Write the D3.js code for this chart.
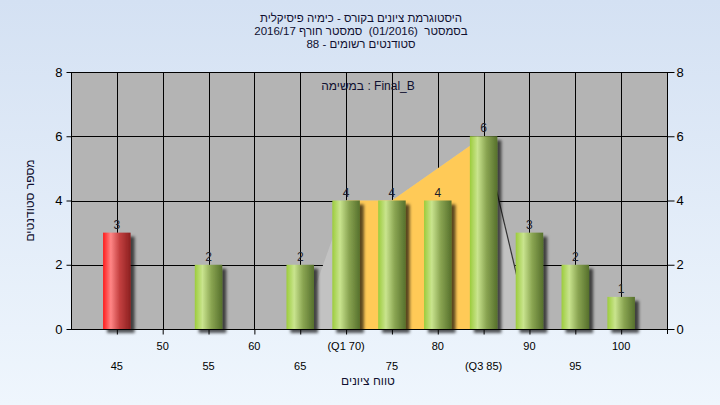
<!DOCTYPE html>
<html><head><meta charset="utf-8">
<script src="https://cdn.jsdelivr.net/npm/d3@7"></script>
<style>html,body{margin:0;padding:0;overflow:hidden;}svg{display:block;font-family:"Liberation Sans",Arial,sans-serif;}</style>
</head><body>
<svg id="chart" width="720" height="405"></svg>
<script>
// ---- data ----
const titleLines = ["היסטוגרמת ציונים בקורס - כימיה פיסיקלית", "בסמסטר  (01/2016)  סמסטר חורף 2016/17", "סטודנטים רשומים - 88"];
const legendText = "במשימה : Final_B";
const xTitle = "טווח ציונים";
const yTitle = "מספר סטודנטים";
const categories = [45, 55, 65, 70, 75, 80, 85, 90, 95, 100];
const counts = [3, 2, 2, 4, 4, 4, 6, 3, 2, 1];
const failing = [true, false, false, false, false, false, false, false, false, false];
const xTickValues = [45, 50, 55, 60, 65, 70, 75, 80, 85, 90, 95, 100];
const xTickLabels = ["45", "50", "55", "60", "65", "(Q1 70)", "75", "80", "(Q3 85)", "90", "95", "100"];
const yTickValues = [0, 2, 4, 6, 8];
const areaX = [65, 70, 75, 85, 90];
const areaY = [0, 4, 4, 6, 0];
const q1 = 70, q3 = 85;

// ---- layout ----
const W = 720, H = 405;
const m = {left: 71, right: 53, top: 72, bottom: 76};
const svg = d3.select("#chart");
const defs = svg.append("defs");

const bg = defs.append("linearGradient").attr("id", "bg").attr("x1", 0).attr("y1", 0).attr("x2", 0).attr("y2", 1);
bg.append("stop").attr("offset", "0%").attr("stop-color", "#d4e1f3");
bg.append("stop").attr("offset", "100%").attr("stop-color", "#eff6fd");
svg.append("rect").attr("width", W).attr("height", H).attr("fill", "url(#bg)");

function barGrad(id, c0, c1, c2, c3) {
  const g = defs.append("linearGradient").attr("id", id).attr("x1", 0).attr("y1", 0).attr("x2", 1).attr("y2", 0);
  g.append("stop").attr("offset", "0%").attr("stop-color", c0);
  g.append("stop").attr("offset", "28%").attr("stop-color", c1);
  g.append("stop").attr("offset", "60%").attr("stop-color", c2);
  g.append("stop").attr("offset", "100%").attr("stop-color", c3);
}
barGrad("gGreen", "#9ccc3c", "#c9e48e", "#8aa552", "#56702c");
barGrad("gRed", "#ff1a1a", "#ff8686", "#c44040", "#8c2020");

const sh = defs.append("filter").attr("id", "shadow").attr("x", "-30%").attr("y", "-30%").attr("width", "180%").attr("height", "160%");
sh.append("feDropShadow").attr("dx", 4).attr("dy", 4).attr("stdDeviation", 1.8).attr("flood-color", "#000").attr("flood-opacity", 0.65);

const x = d3.scaleLinear().domain([40, 105]).range([m.left, W - m.right]);
const y = d3.scaleLinear().domain([0, 8]).range([H - m.bottom - 0, m.top]);
const x0 = x.range()[0], x1 = x.range()[1], y0 = y.range()[0], y1 = y.range()[1];

// plot background
svg.append("rect").attr("x", x0).attr("y", y1).attr("width", x1 - x0).attr("height", y0 - y1).attr("fill", "#b4b4b4");

// gridlines
const grid = svg.append("g").attr("stroke", "#000").attr("stroke-width", 1);
grid.selectAll("line.v").data(xTickValues).join("line")
  .attr("x1", d => Math.round(x(d)) + 0.5).attr("x2", d => Math.round(x(d)) + 0.5)
  .attr("y1", y1).attr("y2", y0);
grid.selectAll("line.h").data(yTickValues.slice(1, -1)).join("line")
  .attr("x1", x0).attr("x2", x1)
  .attr("y1", d => Math.round(y(d)) + 0.5).attr("y2", d => Math.round(y(d)) + 0.5);

// area
const areaData = areaX.map((v, i) => ({x: v, y: areaY[i]}));
const area = d3.area().x(d => x(d.x)).y0(y(0)).y1(d => y(d.y));
svg.append("path").datum(areaData).attr("d", area).attr("fill", "#c2c2c2");
defs.append("clipPath").attr("id", "qclip").append("rect")
  .attr("x", x(q1)).attr("y", y1).attr("width", x(q3) - x(q1)).attr("height", y0 - y1);
svg.append("path").datum(areaData).attr("d", area).attr("fill", "#ffca57").attr("clip-path", "url(#qclip)");
svg.append("path").datum(areaData.slice(-2)).attr("d", d3.line().x(d => x(d.x)).y(d => y(d.y)))
  .attr("fill", "none").attr("stroke", "#333").attr("stroke-width", 1.2);

// bars
const bw = x(43) - x(40);
const bars = categories.map((c, i) => ({c, v: counts[i], fail: failing[i]}));
svg.append("g").selectAll("rect").data(bars).join("rect")
  .attr("x", d => x(d.c) - bw / 2).attr("width", bw)
  .attr("y", d => y(d.v)).attr("height", d => y(0) - y(d.v))
  .attr("fill", d => d.fail ? "url(#gRed)" : "url(#gGreen)")
  .attr("filter", "url(#shadow)");
svg.append("g").selectAll("text").data(bars).join("text")
  .attr("x", d => x(d.c)).attr("y", d => y(d.v) - 4)
  .attr("text-anchor", "middle").attr("font-size", 12).attr("fill", "#1e1e2a")
  .text(d => d.v);

// border
svg.append("rect").attr("x", x0 + 0.5).attr("y", y1 + 0.5).attr("width", x1 - x0).attr("height", y0 - y1)
  .attr("fill", "none").attr("stroke", "#000");

// axes
const xAxis = svg.append("g").attr("transform", `translate(0,${y0 + 0.5})`)
  .call(d3.axisBottom(x).tickValues(xTickValues).tickSize(5).tickFormat(() => ""));
xAxis.select(".domain").remove();
xAxis.selectAll(".tick line").attr("stroke", "#000");
svg.append("g").selectAll("text").data(xTickValues).join("text")
  .attr("x", d => x(d)).attr("y", (d, i) => i % 2 === 1 ? 350 : 370)
  .attr("text-anchor", "middle").attr("font-size", 11).attr("fill", "#000")
  .text((d, i) => xTickLabels[i]);

const yl = svg.append("g").attr("transform", `translate(${x0 + 0.5},0)`)
  .call(d3.axisLeft(y).tickValues(yTickValues).tickSize(5).tickPadding(4).tickFormat(d3.format("d")));
yl.select(".domain").remove();
yl.selectAll("text").attr("font-size", 13).attr("font-family", "Liberation Sans, Arial, sans-serif").attr("fill", "#000");
const yr = svg.append("g").attr("transform", `translate(${x1 + 0.5},0)`)
  .call(d3.axisRight(y).tickValues(yTickValues).tickSize(7).tickPadding(2).tickFormat(d3.format("d")));
yr.select(".domain").attr("d", `M0,${y1}V${y0 + 5}`);
yr.selectAll("text").attr("font-size", 13).attr("font-family", "Liberation Sans, Arial, sans-serif").attr("fill", "#000");

// titles
svg.append("g").selectAll("text").data(titleLines).join("text")
  .attr("x", 361).attr("y", (d, i) => 22 + i * 13)
  .attr("text-anchor", "middle").attr("direction", "rtl").attr("unicode-bidi", "embed")
  .attr("xml:space", "preserve").style("white-space", "pre")
  .attr("font-size", 11.5).attr("fill", "#101030").text(d => d);

svg.append("text").attr("x", 368).attr("y", 90).attr("text-anchor", "middle")
  .attr("font-size", 12).attr("fill", "#101030").text(legendText);

svg.append("text").attr("x", 368).attr("y", 385).attr("text-anchor", "middle")
  .attr("direction", "rtl").attr("unicode-bidi", "embed")
  .attr("font-size", 12).attr("fill", "#101030").text(xTitle);

svg.append("text").attr("transform", `translate(34,${y(4)}) rotate(-90)`).attr("text-anchor", "middle")
  .attr("direction", "rtl").attr("unicode-bidi", "embed")
  .attr("font-size", 12).attr("fill", "#101030").text(yTitle);
</script>
</body></html>
